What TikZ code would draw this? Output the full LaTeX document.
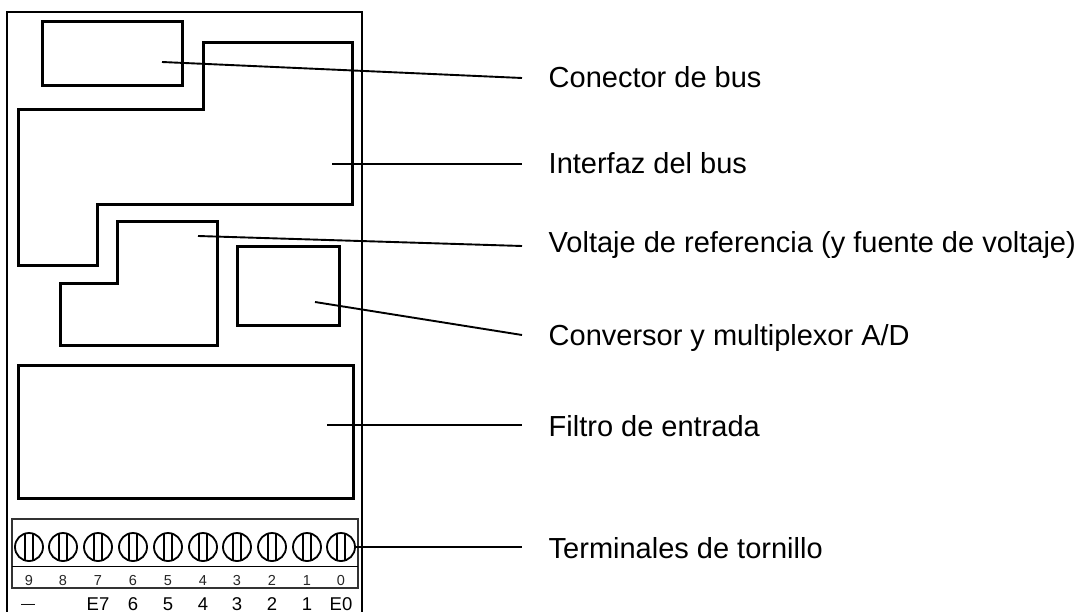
\documentclass[tikz,border=0pt]{standalone}
\usepackage{fontspec}
\setmainfont{Liberation Sans}
\begin{document}
\begin{tikzpicture}[x=1pt,y=-1pt,
  thick/.style={line width=3pt,line join=miter},
  body/.style={line width=2.5pt},
  thin1/.style={line width=1.9pt},
  leader/.style={line width=1.9pt},
  lab/.style={anchor=base west,inner sep=0pt,font=\fontsize{29}{32}\selectfont,text=black},
  small/.style={anchor=base,inner sep=0pt,font=\fontsize{14.5}{17}\selectfont,text=black!85},
  big/.style={anchor=base,inner sep=0pt,font=\fontsize{18.5}{21}\selectfont,text=black},
  dashlab/.style={anchor=base,inner sep=0pt,font=\fontsize{14}{16}\selectfont,text=black},
  screwc/.style={circle,draw,line width=1.8pt,minimum size=28pt,inner sep=0pt},
  slot/.style={line width=1.7pt}]
\useasboundingbox (0,0) rectangle (1086,612);
\fill[white] (0,0) rectangle (1086,612);
% outer housing
\draw[body] (7,612) -- (7,12) -- (362,12) -- (362,612);
% inner blocks
\draw[thick] (42,22) rectangle (182,86);
\draw[thick] (203,43) -- (352,43) -- (352,205) -- (97,205) -- (97,265) -- (18,265) -- (18,110) -- (203,110) -- cycle;
\draw[thick] (117,222) -- (217,222) -- (217,345) -- (60,345) -- (60,283) -- (117,283) -- cycle;
\draw[thick] (237,247) rectangle (339,325);
\draw[thick] (18,365) rectangle (353,498);
% terminal strip
\draw[thin1,black!80] (12,519) rectangle (358,588);
\draw[thin1] (12,566.5) -- (358,566.5);
\foreach \i/\x/\u/\l in {a/29/9/{},b/63/8/{},c/98/7/E7,d/133/6/6,e/168/5/5,f/203/4/4,g/237/3/3,h/272/2/2,j/307/1/1,k/341/0/E0}{
  \node[screwc] (s\i) at (\x,547) {};
  \draw[slot] (\x-4,533) -- (\x-4,561) (\x+4,533) -- (\x+4,561);
  \node[small] (n\i) at (\x,585) {\u};
  \node[big] (m\i) at (\x,610) {\l};
}
\node[dashlab] (minus) at (28,608) {—};
% leaders
\coordinate (p1) at (162,62);
\coordinate (q1) at (522,78);
\coordinate (p2) at (332,164);
\coordinate (q2) at (522,164);
\coordinate (p3) at (198,236);
\coordinate (q3) at (522,246);
\coordinate (p4) at (315,302);
\coordinate (q4) at (522,335);
\coordinate (p5) at (327,425);
\coordinate (q5) at (522,425);
\coordinate (q6) at (522,547);
\draw[leader] (p1) -- (q1);
\draw[leader] (p2) -- (q2);
\draw[leader] (p3) -- (q3);
\draw[leader] (p4) -- (q4);
\draw[leader] (p5) -- (q5);
\draw[leader] (sk.east) -- (q6);
% labels
\node[lab] (t1) at (548.5,88) {Conector de bus};
\node[lab] (t2) at (548.5,174) {Interfaz del bus};
\node[lab] (t3) at (548.5,253) {Voltaje de referencia (y fuente de voltaje)};
\node[lab] (t4) at (548.5,345) {Conversor y multiplexor A/D};
\node[lab] (t5) at (548.5,436) {Filtro de entrada};
\node[lab] (t6) at (548.5,558.5) {Terminales de tornillo};
\end{tikzpicture}
\end{document}
